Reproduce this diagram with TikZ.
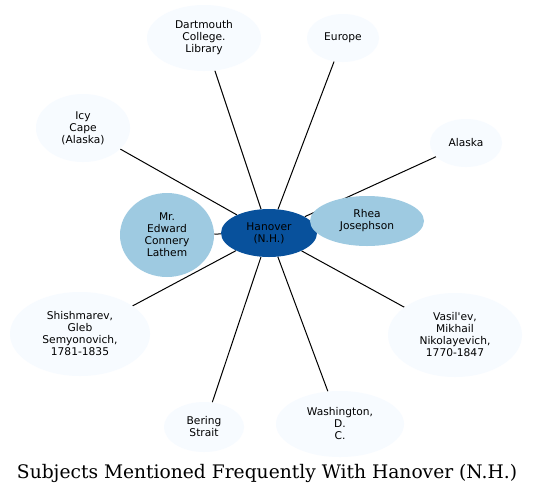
\documentclass[tikz,border=0pt]{standalone}
\usepackage{fontspec}
\usepackage{xcolor}
\usepackage{tikz}
\usetikzlibrary{shapes.geometric,backgrounds}
\newfontfamily\labelfont{DejaVu Sans}
\newfontfamily\captionfont{DejaVu Serif}
\definecolor{hubfill}{HTML}{08519C}
\definecolor{nearfill}{HTML}{9ECAE1}
\definecolor{farfill}{HTML}{F7FBFF}
\tikzset{
  blob/.style 2 args={
    ellipse,
    draw=none,
    inner sep=0pt,
    align=center,
    font=\labelfont\fontsize{8}{9}\selectfont,
    minimum width=#1*0.75pt,
    minimum height=#2*0.75pt
  },
  hub/.style={fill=hubfill},
  near/.style={fill=nearfill},
  far/.style={fill=farfill},
  spoke/.style={line width=0.75pt, draw=black},
  caption/.style={font=\captionfont\fontsize{14}{16}\selectfont, anchor=base}
}

\begin{document}
\begin{tikzpicture}[x=0.75pt,y=-0.75pt]
\useasboundingbox (0,0) rectangle (535,494);

\node[blob={96}{48}, hub] (hanover) at (269,233) {Hanover\\(N.H.)};
\node[blob={94}{84}, near] (lathem) at (167,235) {Mr.\\Edward\\Connery\\Lathem};
\node[blob={114}{50}, near] (rhea) at (367,221) {Rhea\\Josephson};

\node[blob={114}{66}, far] (dartmouth) at (204,38) {Dartmouth\\College.\\Library};
\node[blob={72}{48}, far] (europe) at (343,38) {Europe};
\node[blob={94}{68}, far] (icycape) at (83,128) {Icy\\Cape\\(Alaska)};
\node[blob={72}{48}, far] (alaska) at (466,143) {Alaska};
\node[blob={140}{84}, far] (shishmarev) at (80,334) {Shishmarev,\\Gleb\\Semyonovich,\\1781-1835};
\node[blob={134}{84}, far] (vasilev) at (455,335) {Vasil'ev,\\Mikhail\\Nikolayevich,\\1770-1847};
\node[blob={80}{50}, far] (bering) at (204,427) {Bering\\Strait};
\node[blob={128}{66}, far] (washington) at (340,424) {Washington,\\D.\\C.};

\begin{scope}[on background layer]
\fill[white] (0,0) rectangle (535,494);
\foreach \other in {lathem,rhea,dartmouth,europe,icycape,alaska,shishmarev,vasilev,bering,washington}
  \draw[spoke] (hanover) -- (\other);
\end{scope}

\node[caption] (title) at (267,478) {Subjects Mentioned Frequently With Hanover (N.H.)};
\end{tikzpicture}
\end{document}
